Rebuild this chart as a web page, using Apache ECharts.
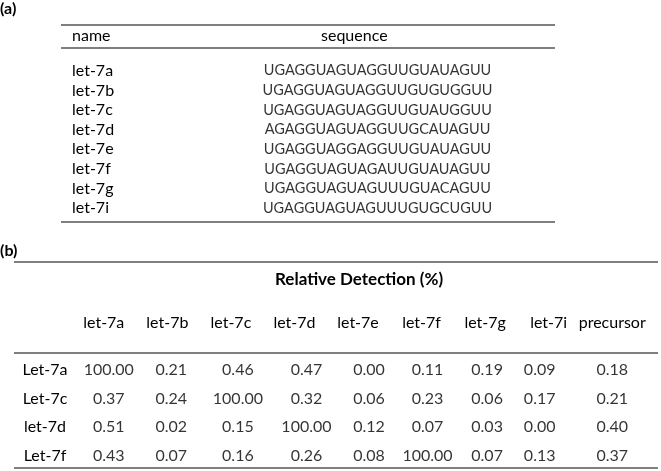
<!DOCTYPE html>
<html><head><meta charset="utf-8">
<script src="https://cdn.jsdelivr.net/npm/echarts@6/dist/echarts.min.js"></script>
<style>html,body{margin:0;padding:0;background:#fff}#c{width:661px;height:471px}</style>
</head><body><div id="c"></div>
<script>
// Table (a)
const seqNames = ['let-7a','let-7b','let-7c','let-7d','let-7e','let-7f','let-7g','let-7i'];
const sequences = ['UGAGGUAGUAGGUUGUAUAGUU','UGAGGUAGUAGGUUGUGUGGUU','UGAGGUAGUAGGUUGUAUGGUU','AGAGGUAGUAGGUUGCAUAGUU','UGAGGUAGGAGGUUGUAUAGUU','UGAGGUAGUAGAUUGUAUAGUU','UGAGGUAGUAGUUUGUACAGUU','UGAGGUAGUAGUUUGUGCUGUU'];
// Table (b)
const detCols = ['let-7a','let-7b','let-7c','let-7d','let-7e','let-7f','let-7g','let-7i','precursor'];
const detRows = ['Let-7a','Let-7c','let-7d','Let-7f'];
const rowLet7a = [100.00,0.21,0.46,0.47,0.00,0.11,0.19,0.09,0.18];
const rowLet7c = [0.37,0.24,100.00,0.32,0.06,0.23,0.06,0.17,0.21];
const rowLet7d = [0.51,0.02,0.15,100.00,0.12,0.07,0.03,0.00,0.40];
const rowLet7f = [0.43,0.07,0.16,0.26,0.08,100.00,0.07,0.13,0.37];

const FONT = 'Lato';
const FS = 16;
const TXT = '#000';
const RULE = '#555';
const labelShift = [5,4,7,12,11,6,2,-9,0];

const detRowsData = [rowLet7a,rowLet7c,rowLet7d,rowLet7f];
const detData = [];
detRowsData.forEach((r,ri)=>r.forEach((v,ci)=>detData.push({value:[ci,ri,v],label:{offset:[labelShift[ci],0]}})));
const seqData = sequences.map((s,i)=>({value:[0,i],seq:s}));

const chart = echarts.init(document.getElementById('c'),null,{renderer:'canvas'});
function hline(x1,x2,y){return {type:'line',shape:{x1:x1,y1:y,x2:x2,y2:y},style:{stroke:RULE,lineWidth:1.6}};}
function ttl(text,left,top,size,weight){return {text:text,left:left,top:top,padding:0,textStyle:{fontFamily:FONT,fontWeight:weight,fontSize:size,color:TXT}};}
chart.setOption({
  animation:false,
  backgroundColor:'#fff',
  textStyle:{fontFamily:FONT,color:TXT},
  title:[
    ttl('(a)',0,1,16,'bold'),
    ttl('(b)',0,243,16,'bold'),
    ttl('name',72,28,FS,'normal'),
    ttl('sequence',321,28,FS,'normal'),
    ttl('Relative Detection (%)',275,271,17,'bold')
  ],
  graphic:[hline(61,555,25),hline(61,555,48),hline(61,555,222),hline(14,658,262),hline(14,658,353),hline(14,658,468)],
  grid:[
    {left:200,right:106,top:61,height:157},
    {left:72,right:17,top:356,height:114}
  ],
  xAxis:[
    {gridIndex:0,type:'category',data:['sequence'],show:false},
    {gridIndex:1,type:'category',data:detCols,position:'top',offset:3,axisLine:{show:false},axisTick:{show:false},splitLine:{show:false},
     axisLabel:{margin:22,fontFamily:FONT,fontSize:FS,color:TXT,interval:0}}
  ],
  yAxis:[
    {gridIndex:0,type:'category',data:seqNames,inverse:true,axisLine:{show:false},axisTick:{show:false},splitLine:{show:false},
     axisLabel:{align:'left',margin:128,fontFamily:FONT,fontSize:FS,color:TXT,interval:0}},
    {gridIndex:1,type:'category',data:detRows,inverse:true,axisLine:{show:false},axisTick:{show:false},splitLine:{show:false},
     axisLabel:{align:'center',margin:27,fontFamily:FONT,fontSize:FS,color:TXT,interval:0}}
  ],
  series:[
    {type:'scatter',xAxisIndex:0,yAxisIndex:0,symbolSize:0,data:seqData,
     label:{show:true,position:'inside',fontFamily:FONT,fontSize:14.5,color:TXT,formatter:p=>p.data.seq}},
    {type:'scatter',xAxisIndex:1,yAxisIndex:1,symbolSize:0,data:detData,
     label:{show:true,position:'inside',fontFamily:FONT,fontSize:FS,color:TXT,formatter:p=>p.value[2].toFixed(2)}}
  ]
});
</script></body></html>
